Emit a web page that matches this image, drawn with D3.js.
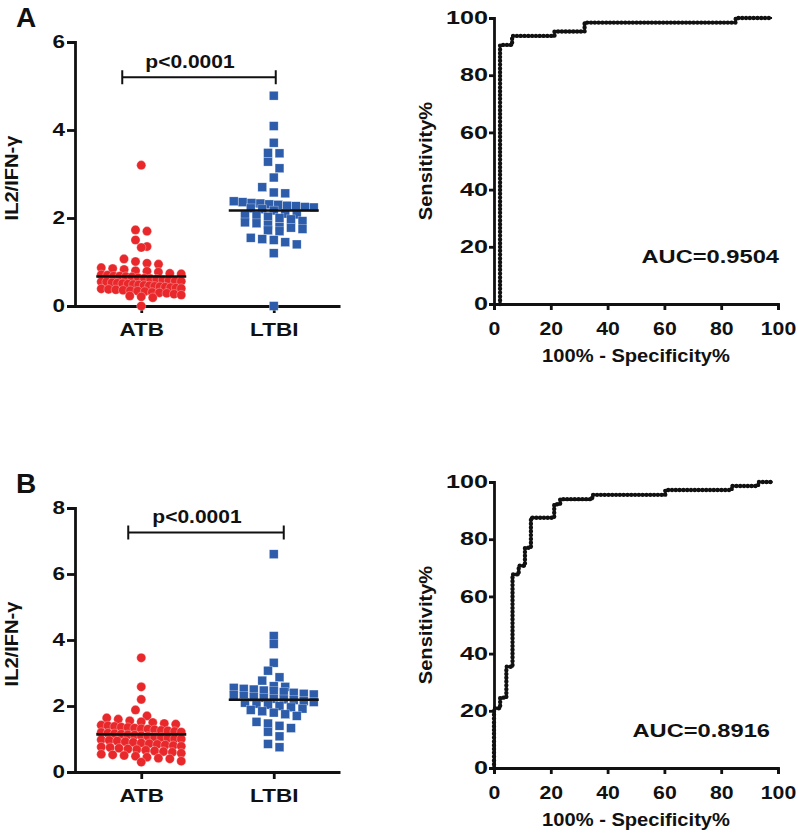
<!DOCTYPE html>
<html>
<head>
<meta charset="utf-8">
<style>
body { margin: 0; background: #fff; }
svg text { font-family: "Liberation Sans", Arial, sans-serif; font-weight: bold; font-size: 17.5px; fill: #111; }
.axis path, .axis line { stroke: #111; stroke-width: 2.8; }
.axis text { font-size: 18px; }
.letter { font-size: 28px !important; }
</style>
</head>
<body>
<svg width="798" height="837"></svg>
<script src="https://d3js.org/d3.v7.min.js"></script>
<script>
// groups and values
var groups = ["ATB", "LTBI"];

var atbA = [3.20, 1.73, 1.70, 1.50, 1.35, 1.33, 1.07, 1.01, 0.97, 0.95, 0.87, 0.85, 0.83, 0.80, 0.79, 0.77,
  0.74, 0.73, 0.71, 0.70, 0.68, 0.68, 0.67, 0.66, 0.64, 0.63, 0.62, 0.61, 0.59, 0.58, 0.57, 0.56,
  0.55, 0.55, 0.53, 0.52, 0.51, 0.50, 0.49, 0.48, 0.47, 0.46, 0.45, 0.44, 0.43, 0.42, 0.41, 0.40,
  0.39, 0.38, 0.37, 0.36, 0.35, 0.34, 0.33, 0.31, 0.30, 0.29, 0.27, 0.25, 0.23, 0.21, 0.19, 0.00];
var ltbiA = [4.78, 4.09, 3.71, 3.48, 3.47, 3.28, 3.13, 2.92, 2.70, 2.58, 2.56, 2.38, 2.36, 2.34, 2.33, 2.31,
  2.30, 2.28, 2.27, 2.25, 2.24, 2.22, 2.20, 2.17, 2.10, 2.08, 2.06, 2.05, 2.03, 2.00, 1.97, 1.93,
  1.90, 1.88, 1.84, 1.80, 1.78, 1.75, 1.72, 1.70, 1.55, 1.52, 1.50, 1.45, 1.40, 1.20, 0.00];
var atbB = [3.46, 2.58, 2.20, 1.88, 1.70, 1.64, 1.60, 1.55, 1.52, 1.50, 1.47, 1.45, 1.42, 1.40, 1.38, 1.36,
  1.35, 1.33, 1.31, 1.30, 1.28, 1.26, 1.25, 1.23, 1.21, 1.20, 1.18, 1.16, 1.15, 1.13, 1.12, 1.10,
  1.08, 1.06, 1.05, 1.03, 1.01, 1.00, 0.98, 0.96, 0.94, 0.92, 0.90, 0.88, 0.86, 0.84, 0.82, 0.80,
  0.78, 0.76, 0.74, 0.72, 0.70, 0.68, 0.66, 0.64, 0.62, 0.60, 0.57, 0.54, 0.52, 0.50, 0.48, 0.45,
  0.42, 0.40, 0.33, 0.30];
var ltbiB = [6.60, 4.12, 3.88, 3.31, 3.07, 2.87, 2.77, 2.60, 2.58, 2.55, 2.52, 2.50, 2.47, 2.45, 2.42, 2.40,
  2.37, 2.35, 2.33, 2.30, 2.27, 2.25, 2.22, 2.20, 2.18, 2.15, 2.12, 2.10, 2.07, 2.04, 2.00, 1.96,
  1.92, 1.88, 1.84, 1.80, 1.75, 1.70, 1.52, 1.47, 1.40, 1.33, 1.22, 1.08, 0.85, 0.75];
var medianA = [0.67, 2.17];
var medianB = [1.14, 2.19];

// ROC corners (100% - specificity, sensitivity), drawn as steps
var rocAx = [2.13, 6.38, 21.3, 31.9, 85.1, 97.9];
var rocAy = [0, 90.6, 93.75, 95.3, 98.4, 100];
var rocBx = [0, 2.17, 4.35, 6.52, 8.7, 10.9, 13.0, 21.2, 23.3, 34.6, 60.3, 83.7, 93.0, 98.1];
var rocBy = [0, 20.9, 24.6, 35.4, 67.7, 70.7, 77.0, 87.5, 92.2, 94.0, 95.5, 97.2, 98.6, 100];

var ticksA = [0, 2, 4, 6], ticksB = [0, 2, 4, 6, 8], rocTicks = [0, 20, 40, 60, 80, 100];
var aucA = "AUC=0.9504", aucB = "AUC=0.8916";
var pLabel = "p<0.0001";

var red = "#e8282b", blue = "#2c5caa";
var svg = d3.select("svg");

// the figure's font is wider than Arial; widen text along its baseline
function stretch(sel, s) {
  sel.each(function() {
    var t = d3.select(this), x = +t.attr("x") || 0, y = +t.attr("y") || 0;
    t.attr("x", null).attr("y", null)
      .attr("transform", "translate(" + x + "," + y + ") scale(" + s + ",1)");
  });
}

function swarm(values, y, cx) {
  var pts = values.map(function(v) { return {v: v, py: y(v)}; })
    .sort(function(a, b) { return a.py - b.py; });
  var rows = [], row = null;
  pts.forEach(function(p) {
    if (!row || p.py - row[0].py > 7) { row = []; rows.push(row); }
    row.push(p);
  });
  rows.forEach(function(r) {
    var n = r.length, sp = n > 1 ? Math.min(11.5, 80 / (n - 1)) : 0;
    r.forEach(function(p, i) { p.px = cx + (i - (n - 1) / 2) * sp; });
  });
  return pts;
}

function scatterPanel(o) {
  var x = d3.scalePoint().domain(groups).range([75, 340]).padding(0.5);
  var y = d3.scaleLinear().domain([0, o.max]).range([o.bottom, o.top]);

  svg.append("text").attr("class", "letter").attr("x", 16).attr("y", o.top - 15).text(o.letter);

  svg.append("g").attr("class", "axis")
    .attr("transform", "translate(75,0)")
    .call(d3.axisLeft(y).tickValues(o.ticks).tickFormat(d3.format("d"))
      .tickSize(8).tickSizeOuter(8).tickPadding(2))
    .selectAll("text").call(stretch, 1.25);

  svg.append("g").attr("class", "axis")
    .attr("transform", "translate(0," + o.bottom + ")")
    .call(d3.axisBottom(x).tickSize(7).tickSizeOuter(0).tickPadding(10))
    .selectAll("text").call(stretch, 1.25);

  svg.append("text")
    .attr("transform", "translate(18," + ((o.top + o.bottom) / 2 + 4) + ") rotate(-90) scale(1.15,1)")
    .attr("text-anchor", "middle")
    .text("IL2/IFN-\u03b3");

  // significance bracket
  var by = y(o.bracket), bx0 = x("ATB") + o.bx[0], bx1 = x("LTBI") + o.bx[1];
  svg.append("path")
    .attr("d", "M" + bx0 + "," + (by - 7) + "V" + (by + 7) + "M" + bx0 + "," + by + "H" + bx1 +
      "M" + bx1 + "," + (by - 7) + "V" + (by + 7))
    .attr("fill", "none").attr("stroke", "#111").attr("stroke-width", 2);
  svg.append("text")
    .attr("transform", "translate(" + ((bx0 + bx1) / 2 - 9) + "," + (by - 9.5) + ") scale(1.2,1)")
    .attr("text-anchor", "middle").text(pLabel);

  var atb = swarm(o.atb, y, x("ATB")), ltbi = swarm(o.ltbi, y, x("LTBI"));
  svg.append("g").selectAll("circle").data(atb).enter().append("circle")
    .attr("cx", function(d) { return d.px; })
    .attr("cy", function(d) { return d.py; })
    .attr("r", 4.6)
    .attr("fill", red).attr("stroke", "#fff").attr("stroke-width", 0.5).attr("stroke-opacity", 0.6);
  svg.append("g").selectAll("rect").data(ltbi).enter().append("rect")
    .attr("x", function(d) { return d.px - 4.4; })
    .attr("y", function(d) { return d.py - 4.4; })
    .attr("width", 8.8).attr("height", 8.8)
    .attr("fill", blue).attr("stroke", "#fff").attr("stroke-width", 0.5).attr("stroke-opacity", 0.6);

  svg.append("g").selectAll("line").data(o.median).enter().append("line")
    .attr("x1", function(d, i) { return x(groups[i]) - 45; })
    .attr("x2", function(d, i) { return x(groups[i]) + 45; })
    .attr("y1", function(d) { return y(d); })
    .attr("y2", function(d) { return y(d); })
    .attr("stroke", "#111").attr("stroke-width", 2.6);
}

function rocPanel(o) {
  var x = d3.scaleLinear().domain([0, 100]).range([494, 778]);
  var y = d3.scaleLinear().domain([0, 100]).range([o.bottom, o.top]);

  svg.append("g").attr("class", "axis")
    .attr("transform", "translate(494,0)")
    .call(d3.axisLeft(y).tickValues(rocTicks).tickSize(5).tickPadding(1))
    .selectAll("text").call(stretch, 1.4);

  svg.append("g").attr("class", "axis")
    .attr("transform", "translate(0," + o.bottom + ")")
    .call(d3.axisBottom(x).tickValues(rocTicks).tickSize(6).tickPadding(12))
    .selectAll("text").call(stretch, 1.18);

  svg.append("text")
    .attr("transform", "translate(432," + (o.top + o.bottom) / 2 + ") rotate(-90) scale(1.15,1)")
    .attr("text-anchor", "middle").text("Sensitivity%");
  svg.append("text")
    .attr("transform", "translate(636," + (o.bottom + 58) + ") scale(1.15,1)")
    .attr("text-anchor", "middle").text("100% - Specificity%");

  var pts = o.fx.map(function(v, i) { return [v, o.fy[i]]; });
  var line = d3.line()
    .x(function(d) { return x(d[0]); })
    .y(function(d) { return y(d[1]); })
    .curve(d3.curveStepBefore);
  svg.append("path").attr("d", line(pts))
    .attr("fill", "none").attr("stroke", "#111").attr("stroke-width", 2);
  svg.append("path").attr("d", line(pts))
    .attr("fill", "none").attr("stroke", "#111").attr("stroke-width", 4.4)
    .attr("stroke-linecap", "round").attr("stroke-dasharray", "0,3.8");

  svg.append("text")
    .attr("transform", "translate(" + o.aucX + "," + y(o.aucY) + ") scale(1.28,1)")
    .attr("text-anchor", "end").style("font-size", "18.5px").text(o.auc);
}

scatterPanel({letter: "A", top: 42, bottom: 306, max: 6, ticks: ticksA, atb: atbA, ltbi: ltbiA,
  median: medianA, bracket: 5.2, bx: [-19, 2]});
scatterPanel({letter: "B", top: 508, bottom: 772, max: 8, ticks: ticksB, atb: atbB, ltbi: ltbiB,
  median: medianB, bracket: 7.26, bx: [-13, 10]});
rocPanel({top: 18, bottom: 304, fx: rocAx, fy: rocAy, auc: aucA, aucX: 779, aucY: 14.3});
rocPanel({top: 482, bottom: 768, fx: rocBx, fy: rocBy, auc: aucB, aucX: 770, aucY: 10.8});
</script>
</body>
</html>
